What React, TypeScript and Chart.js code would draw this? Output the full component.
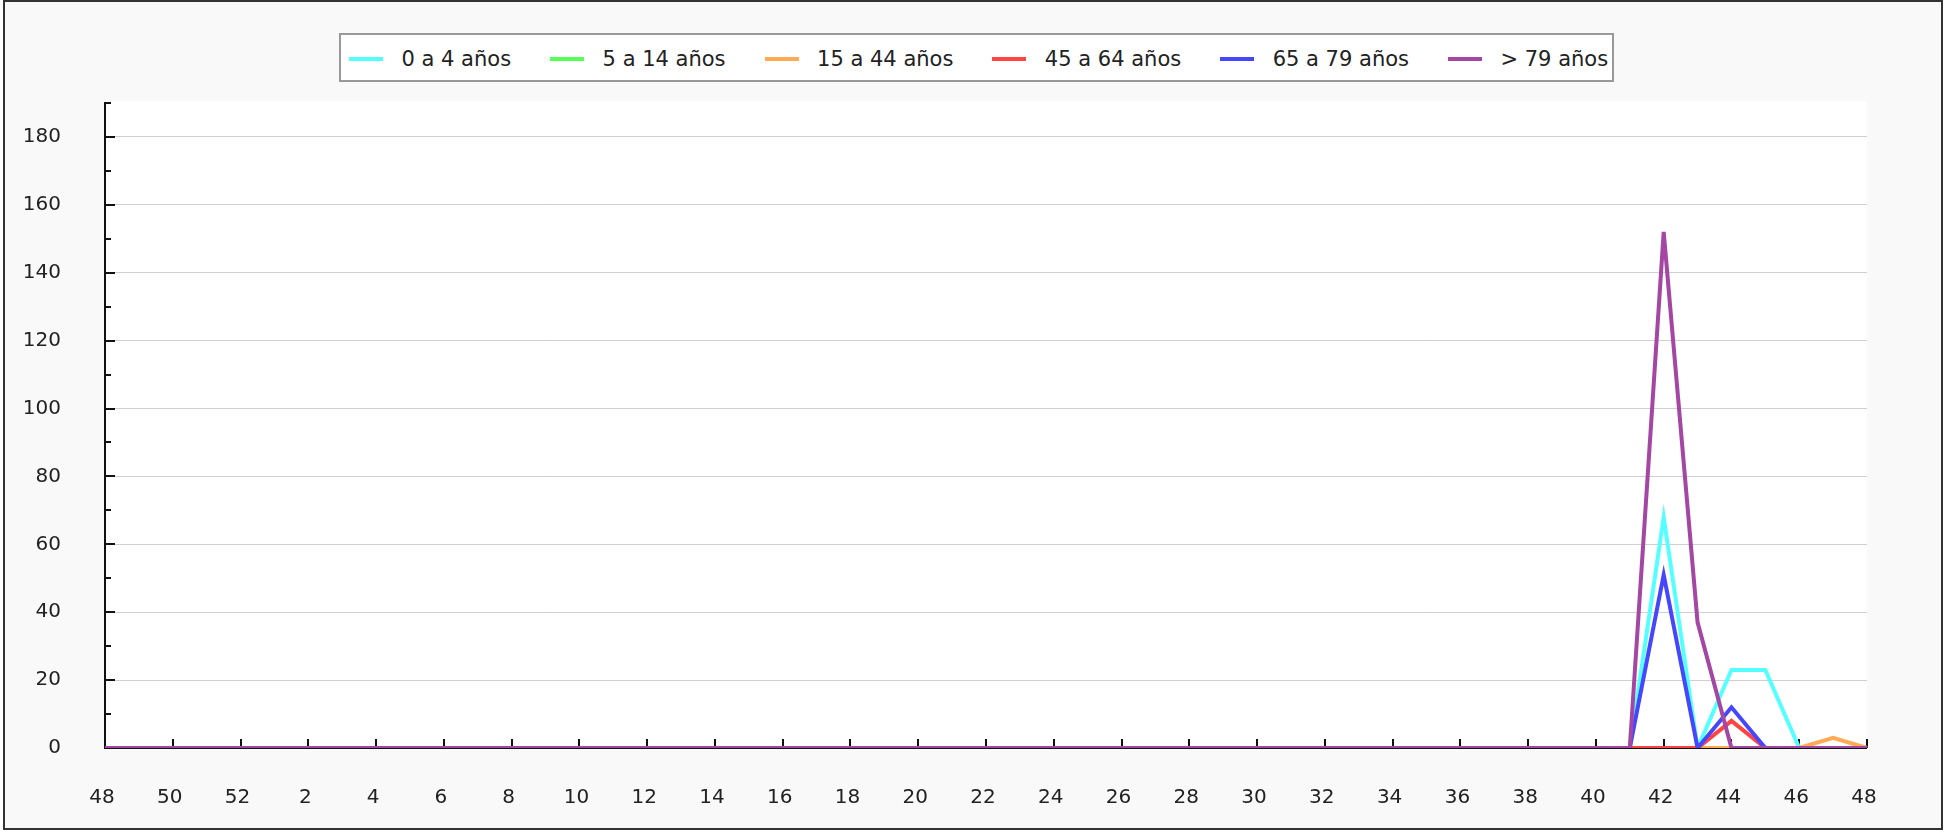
import React, { useEffect, useRef } from 'react';
import { Chart, registerables } from 'chart.js';

Chart.register(...registerables);

// Epidemiological weeks: 48 of previous year to 48 of current year
const weekLabels = [
  48, 49, 50, 51, 52,
  1, 2, 3, 4, 5, 6, 7, 8, 9, 10,
  11, 12, 13, 14, 15, 16, 17, 18, 19, 20,
  21, 22, 23, 24, 25, 26, 27, 28, 29, 30,
  31, 32, 33, 34, 35, 36, 37, 38, 39, 40,
  41, 42, 43, 44, 45, 46, 47, 48,
];

const seriesNames = ['0 a 4 años', '5 a 14 años', '15 a 44 años', '45 a 64 años', '65 a 79 años', '> 79 años'];
const seriesColors = ['#55ffff', '#55ff55', '#ffaa55', '#ff4444', '#4646ff', '#a446a4'];

const age0to4 = [
  0, 0, 0, 0, 0, 0, 0, 0, 0, 0, 0, 0, 0, 0, 0,
  0, 0, 0, 0, 0, 0, 0, 0, 0, 0, 0, 0, 0, 0, 0,
  0, 0, 0, 0, 0, 0, 0, 0, 0, 0, 0, 0, 0, 0, 0,
  0, 68, 0, 23, 23, 0, 0, 0,
];
const age5to14 = [
  0, 0, 0, 0, 0, 0, 0, 0, 0, 0, 0, 0, 0, 0, 0,
  0, 0, 0, 0, 0, 0, 0, 0, 0, 0, 0, 0, 0, 0, 0,
  0, 0, 0, 0, 0, 0, 0, 0, 0, 0, 0, 0, 0, 0, 0,
  0, 0, 0, 0, 0, 0, 0, 0,
];
const age15to44 = [
  0, 0, 0, 0, 0, 0, 0, 0, 0, 0, 0, 0, 0, 0, 0,
  0, 0, 0, 0, 0, 0, 0, 0, 0, 0, 0, 0, 0, 0, 0,
  0, 0, 0, 0, 0, 0, 0, 0, 0, 0, 0, 0, 0, 0, 0,
  0, 0, 0, 0, 0, 0, 3, 0,
];
const age45to64 = [
  0, 0, 0, 0, 0, 0, 0, 0, 0, 0, 0, 0, 0, 0, 0,
  0, 0, 0, 0, 0, 0, 0, 0, 0, 0, 0, 0, 0, 0, 0,
  0, 0, 0, 0, 0, 0, 0, 0, 0, 0, 0, 0, 0, 0, 0,
  0, 0, 0, 8, 0, 0, 0, 0,
];
const age65to79 = [
  0, 0, 0, 0, 0, 0, 0, 0, 0, 0, 0, 0, 0, 0, 0,
  0, 0, 0, 0, 0, 0, 0, 0, 0, 0, 0, 0, 0, 0, 0,
  0, 0, 0, 0, 0, 0, 0, 0, 0, 0, 0, 0, 0, 0, 0,
  0, 51, 0, 12, 0, 0, 0, 0,
];
const ageOver79 = [
  0, 0, 0, 0, 0, 0, 0, 0, 0, 0, 0, 0, 0, 0, 0,
  0, 0, 0, 0, 0, 0, 0, 0, 0, 0, 0, 0, 0, 0, 0,
  0, 0, 0, 0, 0, 0, 0, 0, 0, 0, 0, 0, 0, 0, 0,
  0, 152, 37, 0, 0, 0, 0, 0,
];

const yMin = 0;
const yMax = 190;
const yStep = 10;
const yLabelStep = 20;

const FONT = "'DejaVu Sans', Verdana, sans-serif";
const TEXT = '#222222';

const framePlugin = {
  id: 'framePlugin',
  beforeDraw(chart: any) {
    const { ctx, chartArea: a } = chart;
    ctx.save();
    ctx.fillStyle = '#ffffff';
    ctx.fillRect(a.left, a.top - 2, a.right - a.left, a.bottom - a.top + 2);
    ctx.restore();
  },
  beforeDatasetsDraw(chart: any) {
    const { ctx, chartArea: a, scales } = chart;
    const xs = scales.x;
    const ys = scales.y;
    ctx.save();
    ctx.strokeStyle = '#111111';
    ctx.lineWidth = 2;
    ctx.beginPath();
    ctx.moveTo(a.left, a.top - 1);
    ctx.lineTo(a.left, a.bottom);
    ctx.lineTo(a.right, a.bottom);
    ctx.stroke();
    ctx.lineWidth = 2;
    ctx.beginPath();
    ys.ticks.forEach((t: any) => {
      if (t.value <= 0) return;
      const py = Math.round(ys.getPixelForValue(t.value));
      const len = t.value % yLabelStep === 0 ? 10 : 6;
      ctx.moveTo(a.left, py);
      ctx.lineTo(a.left + len, py);
    });
    xs.ticks.forEach((t: any, i: number) => {
      if (i % 2 !== 0 || i === 0) return;
      const px = Math.round(xs.getPixelForValue(t.value));
      ctx.moveTo(px, a.bottom);
      ctx.lineTo(px, a.bottom - 9);
    });
    ctx.stroke();
    ctx.restore();
  },
};

export default function App() {
  const canvasRef = useRef<HTMLCanvasElement | null>(null);

  useEffect(() => {
    if (!canvasRef.current) return;
    const seriesData = [age0to4, age5to14, age15to44, age45to64, age65to79, ageOver79];
    const chart = new Chart(canvasRef.current, {
      type: 'line',
      data: {
        labels: weekLabels.map(String),
        datasets: seriesData.map((d, i) => ({
          label: seriesNames[i],
          data: d,
          borderColor: seriesColors[i],
          backgroundColor: seriesColors[i],
          borderWidth: 4,
          pointRadius: 0,
          pointHoverRadius: 0,
          tension: 0,
          fill: false,
          order: seriesData.length - i,
        })),
      },
      options: {
        animation: false,
        responsive: false,
        devicePixelRatio: 1,
        layout: { padding: { left: 0, right: 77, top: 103, bottom: 0 } },
        plugins: {
          legend: { display: false },
          tooltip: { enabled: false },
        },
        scales: {
          x: {
            type: 'category',
            grid: { display: false, drawTicks: false },
            border: { display: false },
            ticks: {
              autoSkip: false,
              maxRotation: 0,
              minRotation: 0,
              padding: 38,
              labelOffset: -3,
              color: TEXT,
              font: { family: FONT, size: 20 },
              callback: (_v: any, i: number) => (i % 2 === 0 ? String(weekLabels[i]) : ''),
            },
            afterFit: (s: any) => {
              s.height = 84;
            },
          },
          y: {
            min: yMin,
            max: yMax,
            grid: {
              drawTicks: false,
              lineWidth: 1,
              color: (c: any) =>
                c.tick && c.tick.value % yLabelStep === 0 && c.tick.value > yMin && c.tick.value < yMax
                  ? '#d0d0d0'
                  : 'rgba(0,0,0,0)',
            },
            border: { display: false },
            ticks: {
              stepSize: yStep,
              autoSkip: false,
              padding: 44,
              color: TEXT,
              font: { family: FONT, size: 20 },
              callback: (v: any) => (Number(v) % yLabelStep === 0 ? String(v) : ''),
            },
            afterFit: (s: any) => {
              s.width = 105;
            },
          },
        },
      },
      plugins: [framePlugin],
    } as any);
    return () => chart.destroy();
  }, []);

  return (
    <div style={{ position: 'absolute', left: 0, top: 0, width: 1944, height: 832, background: '#ffffff' }}>
      <div
        style={{
          position: 'absolute',
          left: 3,
          top: 0,
          width: 1940,
          height: 830,
          border: '2px solid #333333',
          boxSizing: 'border-box',
          background: '#f9f9f9',
        }}
      />
      <canvas
        ref={canvasRef}
        width={1944}
        height={832}
        style={{ position: 'absolute', left: 0, top: 0, width: 1944, height: 832 }}
      />
      <div
        style={{
          position: 'absolute',
          left: 339,
          top: 33,
          width: 1275,
          height: 49,
          border: '2px solid #999999',
          boxSizing: 'border-box',
          background: '#ffffff',
          display: 'flex',
          alignItems: 'center',
          paddingLeft: 8,
          paddingTop: 3,
          fontFamily: FONT,
          fontSize: 21,
          color: TEXT,
          whiteSpace: 'nowrap',
        }}
      >
        {seriesNames.map((name, i) => (
          <div
            key={name}
            style={{
              display: 'flex',
              alignItems: 'center',
              marginRight: i < seriesNames.length - 1 ? 39 : 0,
            }}
          >
            <span
              style={{
                display: 'inline-block',
                width: 34,
                height: 4,
                background: seriesColors[i],
                marginRight: 18.5,
              }}
            />
            <span>{name}</span>
          </div>
        ))}
      </div>
    </div>
  );
}
